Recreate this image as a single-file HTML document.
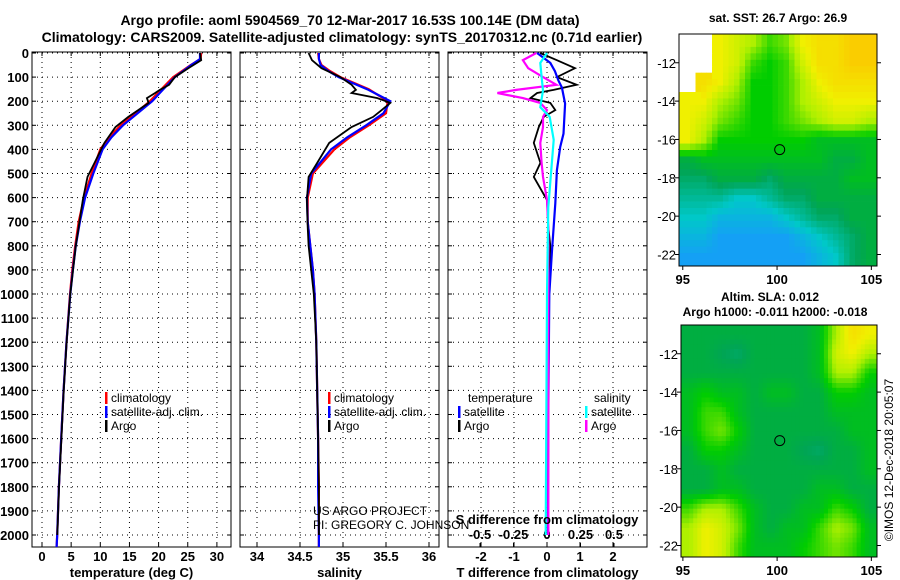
<!DOCTYPE html>
<html><head><meta charset="utf-8"><style>
body{margin:0;background:#fff;}
svg{display:block;font-family:"Liberation Sans",sans-serif;font-weight:bold;}
</style></head><body>
<svg id="c" width="900" height="580" viewBox="0 0 900 580">
<text x="350" y="25" font-size="14" text-anchor="middle">Argo profile: aoml 5904569_70 12-Mar-2017 16.53S 100.14E (DM data)</text>
<text x="342" y="42" font-size="14" text-anchor="middle">Climatology: CARS2009. Satellite-adjusted climatology: synTS_20170312.nc (0.71d earlier)</text>
<text x="778" y="22" font-size="12" text-anchor="middle">sat. SST: 26.7 Argo: 26.9</text>
<text x="770" y="301" font-size="12" text-anchor="middle">Altim. SLA: 0.012</text>
<text x="775" y="316" font-size="12" text-anchor="middle">Argo h1000: -0.011 h2000: -0.018</text>
<text transform="translate(893,460) rotate(-90)" font-size="12" font-weight="normal" text-anchor="middle">©IMOS 12-Dec-2018 20:05:07</text>
<g id="g"></g>
</svg>
<script>
// ---- data ----
const depthTicks=[0,100,200,300,400,500,600,700,800,900,1000,1100,1200,1300,1400,1500,1600,1700,1800,1900,2000];
const tempTicks=[0,5,10,15,20,25,30];
const salTicks=[34,34.5,35,35.5,36];
const tdiffTicks=[-2,-1,0,1,2];
const sdiffTicks=[-0.5,-0.25,0,0.25,0.5];
const climDepth=[0,25,50,75,100,150,200,250,300,350,400,500,600,700,800,900,1000,1200,1400,1600,1800,2000,2050];
const climTemp=[27.3,27.2,25.5,24,22.5,20.5,18.5,16,13.5,11.5,10,8.5,7.2,6.3,5.7,5.2,4.8,4.2,3.7,3.3,2.9,2.6,2.5];
const satTemp=[27.1,27.1,25.6,24.2,22.8,20.8,18.9,16.4,13.9,11.9,10.4,8.8,7.4,6.5,5.8,5.3,4.85,4.2,3.7,3.3,2.9,2.6,2.5];
const argoDepth=[0,30,63,100,132,153,166,187,207,237,265,307,373,456,514,610,722,800,1000,1200,1400,1600,1800,2000];
const argoTemp=[27.1,27.3,25.1,22.8,21.8,20.2,19.4,18.0,18.3,16.5,14.8,12.6,10.7,9.0,7.8,7.0,6.3,5.8,4.85,4.22,3.72,3.32,2.92,2.62];
const climSal=[34.71,34.72,34.75,34.85,34.97,35.3,35.52,35.5,35.3,35.08,34.9,34.65,34.59,34.59,34.62,34.65,34.67,34.69,34.7,34.71,34.72,34.72,34.72];
const satSal=[34.72,34.72,34.74,34.83,34.95,35.28,35.55,35.47,35.27,35.05,34.86,34.63,34.58,34.59,34.62,34.65,34.67,34.69,34.7,34.71,34.71,34.72,34.72];
const argoSal=[34.6,34.64,34.75,34.97,35.1,35.15,35.1,35.4,35.55,35.45,35.35,35.1,34.84,34.7,34.6,34.58,34.59,34.6,34.66,34.69,34.7,34.71,34.72,34.72];
const argoTdiff=[-0.21,0.3,0.85,0.3,0.9,0.2,-0.3,-0.5,0.1,0.25,-0.1,-0.25,-0.4,-0.2,-0.4,0,0.04,0.1,0.05,0.03,0.02,0.02,0.02,0.02];
const satDepth=[0,41,75,115,143,210,335,390,487,625,820,1000,1500,2000];
const satTdiff=[-0.3,0.1,0.24,0.35,0.45,0.55,0.5,0.4,0.3,0.25,0.15,0.07,0.04,0.03];
const argoSdiff=[-0.08,-0.18,-0.14,-0.03,0.07,-0.23,-0.37,-0.18,-0.05,0,-0.03,-0.03,-0.05,-0.04,-0.03,0,0.01,0.01,0.01,0.01,0.01,0.01,0.01,0.01];
const satSdiffDepth=[0,41,100,155,225,265,360,640,1000,2000];
const satSdiff=[0,-0.05,-0.04,-0.03,-0.05,0.02,0.05,0.01,0,-0.01];
const sstGrid=[
[-1,-1,0.8,0.75,0.7,0.6,0.65,0.8,0.85,0.85,0.9,0.9],
[-1,-1,0.8,0.75,0.6,0.55,0.6,0.75,0.85,0.85,0.9,0.9],
[-1,0.85,0.8,0.7,0.55,0.55,0.6,0.7,0.8,0.85,0.85,0.85],
[0.8,0.8,0.7,0.65,0.55,0.55,0.6,0.7,0.75,0.8,0.8,0.8],
[0.8,0.75,0.65,0.6,0.55,0.55,0.6,0.65,0.7,0.75,0.75,0.7],
[0.8,0.7,0.55,0.55,0.55,0.55,0.55,0.55,0.5,0.5,0.5,0.5],
[0.45,0.5,0.5,0.5,0.5,0.5,0.5,0.5,0.5,0.45,0.45,0.5],
[0.4,0.4,0.45,0.45,0.45,0.4,0.45,0.45,0.45,0.45,0.5,0.5],
[0.35,0.35,0.35,0.3,0.3,0.35,0.4,0.4,0.45,0.45,0.45,0.45],
[0.3,0.3,0.25,0.25,0.25,0.25,0.3,0.35,0.4,0.4,0.45,0.45],
[0.25,0.25,0.2,0.2,0.2,0.2,0.2,0.25,0.3,0.35,0.4,0.45],
[0.2,0.2,0.2,0.2,0.2,0.2,0.2,0.2,0.25,0.3,0.4,0.45]];
const slaGrid=[
[0.45,0.45,0.45,0.45,0.45,0.45,0.45,0.45,0.5,0.7,0.85,0.8],
[0.45,0.45,0.42,0.4,0.45,0.45,0.45,0.45,0.5,0.75,0.8,0.7],
[0.45,0.45,0.45,0.45,0.45,0.45,0.45,0.45,0.5,0.7,0.7,0.55],
[0.5,0.55,0.5,0.5,0.45,0.5,0.5,0.45,0.45,0.55,0.55,0.5],
[0.5,0.6,0.6,0.5,0.45,0.45,0.45,0.45,0.45,0.5,0.5,0.5],
[0.5,0.6,0.65,0.55,0.45,0.45,0.45,0.45,0.45,0.45,0.5,0.5],
[0.45,0.55,0.55,0.5,0.45,0.45,0.45,0.42,0.4,0.45,0.45,0.5],
[0.45,0.45,0.5,0.45,0.45,0.45,0.45,0.45,0.45,0.45,0.45,0.5],
[0.45,0.45,0.5,0.5,0.45,0.45,0.45,0.45,0.5,0.5,0.45,0.45],
[0.6,0.7,0.7,0.6,0.5,0.45,0.45,0.5,0.5,0.6,0.55,0.45],
[0.7,0.8,0.75,0.65,0.5,0.45,0.5,0.5,0.6,0.7,0.65,0.5],
[0.7,0.8,0.75,0.6,0.5,0.5,0.5,0.55,0.6,0.65,0.6,0.5]];
const latTicks=[-12,-14,-16,-18,-20,-22];
const lonTicks=[95,100,105];
const argoLon=100.14, argoLat=-16.53;

// ---- helpers ----
const NS='http://www.w3.org/2000/svg', G=document.getElementById('g');
function mk(t,a,txt){const e=document.createElementNS(NS,t);for(const k in a)e.setAttribute(k,a[k]);if(txt!==undefined)e.textContent=txt;G.appendChild(e);return e;}
const PT=52, PB=547;
const yD=d=>53+d*0.241;
const xT=v=>42+v*5.83, xS=v=>257+(v-34)*86, xTd=v=>547+v*33, xSd=v=>547+v*134;
const panels=[[32,231],[240,439],[448,647]];
function line(xs,ds,sx,col,name,w){
  const p=mk('polyline',{points:xs.map((v,i)=>sx(v).toFixed(1)+','+yD(ds[i]).toFixed(1)).join(' '),fill:'none',stroke:col,'stroke-width':w||2.2});
  
  
}
panels.forEach((p,i)=>{
  const r=mk('rect',{x:p[0],y:PT,width:p[1]-p[0],height:PB-PT,fill:'none',stroke:'#000','stroke-width':1});
  
  
  depthTicks.forEach(d=>{mk('line',{x1:p[0],x2:p[1],y1:yD(d),y2:yD(d),stroke:'#000','stroke-dasharray':'1,4','stroke-width':1});
    mk('line',{x1:p[0],x2:p[0]+4,y1:yD(d),y2:yD(d),stroke:'#000'});mk('line',{x1:p[1]-4,x2:p[1],y1:yD(d),y2:yD(d),stroke:'#000'});});
});
depthTicks.forEach(d=>{const t=mk('text',{x:29,y:yD(d)+5,'font-size':13,'text-anchor':'end'},String(d));
  
  });
function xaxis(ticks,sx,p,title,name){
  ticks.forEach(v=>{const x=sx(v);mk('line',{x1:x,x2:x,y1:PT,y2:PB,stroke:'#000','stroke-dasharray':'1,4'});
    mk('line',{x1:x,x2:x,y1:PB-4,y2:PB,stroke:'#000'});mk('line',{x1:x,x2:x,y1:PT,y2:PT+4,stroke:'#000'});
    const t=mk('text',{x:x,y:561,'font-size':13,'text-anchor':'middle'},String(v));
    
    });
  const t=mk('text',{x:(p[0]+p[1])/2,y:577,'font-size':13,'text-anchor':'middle'},title);
  
  
}
xaxis(tempTicks,xT,panels[0],'temperature (deg C)','temperature');
xaxis(salTicks,xS,panels[1],'salinity','salinity');
xaxis(tdiffTicks,xTd,panels[2],'T difference from climatology','tdiff');
sdiffTicks.forEach(v=>{const t=mk('text',{x:xSd(v),y:539,'font-size':13,'text-anchor':'middle'},String(v));
  
  
  mk('line',{x1:xSd(v),x2:xSd(v),y1:PB-4,y2:PB,stroke:'#000'});});
line(climTemp,climDepth,xT,'#f00','temp-climatology-line');
line(satTemp,climDepth,xT,'#00f','temp-satellite-line');
line(argoTemp,argoDepth,xT,'#000','temp-argo-line',1.8);
line(climSal,climDepth,xS,'#f00','sal-climatology-line');
line(satSal,climDepth,xS,'#00f','sal-satellite-line');
line(argoSal,argoDepth,xS,'#000','sal-argo-line',1.8);
line(argoTdiff,argoDepth,xTd,'#000','tdiff-argo-line',1.8);
line(satTdiff,satDepth,xTd,'#00f','tdiff-satellite-line');
line(argoSdiff,argoDepth,xSd,'#f0f','sdiff-argo-line');
line(satSdiff,satSdiffDepth,xSd,'#0ff','sdiff-satellite-line');
const st=mk('text',{x:547,y:524,'font-size':13,'text-anchor':'middle'},'S difference from climatology');


function leg(x,y,col,label,name){mk('rect',{x:x,y:y-10,width:2.5,height:12,fill:col});
  const t=mk('text',{x:x+6,y:y,'font-size':12,'font-weight':'normal'},label);
  
  }
[[105,'#f00','climatology'],[105,'#00f','satellite-adj. clim.'],[105,'#000','Argo']].forEach((a,i)=>leg(a[0],402+i*14,a[1],a[2],'legend-temp-'+i));
[[328,'#f00','climatology'],[328,'#00f','satellite-adj. clim.'],[328,'#000','Argo']].forEach((a,i)=>leg(a[0],402+i*14,a[1],a[2],'legend-sal-'+i));
const lt1=mk('text',{x:468,y:402,'font-size':12,'font-weight':'normal'},'temperature');
const lt2=mk('text',{x:594,y:402,'font-size':12,'font-weight':'normal'},'salinity');
leg(458,416,'#00f','satellite','legend-tdiff-sat');leg(458,430,'#000','Argo','legend-tdiff-argo');
leg(585,416,'#0ff','satellite','legend-sdiff-sat');leg(585,430,'#f0f','Argo','legend-sdiff-argo');
const c1=mk('text',{x:313,y:515,'font-size':12,'font-weight':'normal'},'US ARGO PROJECT');
const c2=mk('text',{x:313,y:529,'font-size':12,'font-weight':'normal'},'PI: GREGORY C. JOHNSON');
const stops=[[0.1,[0,0,230]],[0.2,[20,160,245]],[0.3,[0,200,200]],[0.42,[0,165,85]],[0.55,[0,205,0]],[0.7,[175,240,0]],[0.8,[240,240,0]],[0.9,[250,205,0]]];
function cmap(v){if(v<0)return '#fff';for(let i=1;i<stops.length;i++){if(v<=stops[i][0]){const a=stops[i-1],b=stops[i],t=(v-a[0])/(b[0]-a[0]);return 'rgb('+a[1].map((c,k)=>Math.round(c+(b[1][k]-c)*t)).join(',')+')';}}return 'rgb(250,205,0)';}
function sample(grid,fr,fc){const nr=grid.length,nc=grid[0].length;
  const r0=Math.max(0,Math.min(nr-1,Math.floor(fr))),c0=Math.max(0,Math.min(nc-1,Math.floor(fc)));
  const r1=Math.min(nr-1,r0+1),c1=Math.min(nc-1,c0+1),tr=Math.max(0,Math.min(1,fr-r0)),tc=Math.max(0,Math.min(1,fc-c0));
  const q=[grid[r0][c0],grid[r0][c1],grid[r1][c0],grid[r1][c1]];
  if(q.some(v=>v<0))return grid[Math.round(Math.max(0,Math.min(nr-1,fr)))][Math.round(Math.max(0,Math.min(nc-1,fc)))];
  return (q[0]*(1-tc)+q[1]*tc)*(1-tr)+(q[2]*(1-tc)+q[3]*tc)*tr;}
function map(grid,box,lat0,lat1,lon0,lon1,name,sub){
  const [x0,y0,x1,y1]=box, sx=l=>x0+(l-lon0)/(lon1-lon0)*(x1-x0), sy=l=>y0+(lat0-l)/(lat0-lat1)*(y1-y0);
  const nr=grid.length*sub,nc=grid[0].length*sub,cw=(x1-x0)/nc,ch=(y1-y0)/nr;
  for(let r=0;r<nr;r++)for(let c=0;c<nc;c++){
    const v=sample(grid,(r+0.5)/sub-0.5,(c+0.5)/sub-0.5);
    const e=mk('rect',{x:(x0+c*cw).toFixed(2),y:(y0+r*ch).toFixed(2),width:(cw+0.4).toFixed(2),height:(ch+0.4).toFixed(2),fill:cmap(v)});
    
    }
  const f=mk('rect',{x:x0,y:y0,width:x1-x0,height:y1-y0,fill:'none',stroke:'#000'});
  
  
  latTicks.forEach(l=>{const y=sy(l);mk('line',{x1:x0-4,x2:x0,y1:y,y2:y,stroke:'#000'});mk('line',{x1:x1,x2:x1+4,y1:y,y2:y,stroke:'#000'});
    const t=mk('text',{x:x0-3,y:y+5,'font-size':13,'font-weight':'normal','text-anchor':'end'},String(l));
    
    });
  lonTicks.forEach(l=>{const x=sx(l);mk('line',{x1:x,x2:x,y1:y1,y2:y1+4,stroke:'#000'});
    const t=mk('text',{x:x,y:y1+18,'font-size':13,'text-anchor':'middle'},String(l));
    
    });
  const m=mk('circle',{cx:sx(argoLon),cy:sy(argoLat),r:5,fill:'none',stroke:'#000'});
  
  
}
map(sstGrid,[679,34,877,266],-10.5,-22.6,94.8,105.3,'sst-map',3);
map(slaGrid,[681,325,877,557],-10.5,-22.6,94.9,105.3,'sla-map',4);
</script>
</body></html>
